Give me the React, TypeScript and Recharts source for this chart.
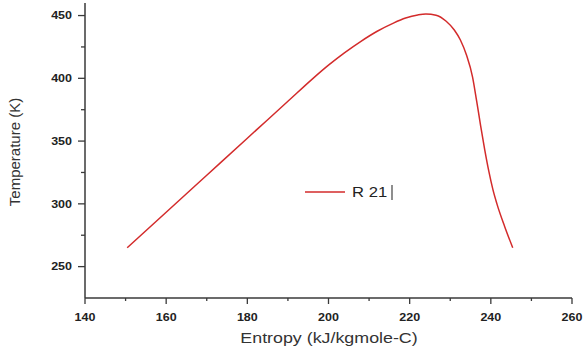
import React from 'react';
import { LineChart, Line, XAxis, YAxis, Customized } from 'recharts';

const entropy = [150.4, 160, 170, 180, 190, 196.2, 200, 204, 208, 212, 216, 219, 222, 224, 226.5, 229, 231, 232.5, 234, 235.5, 236.5, 237.5, 238.5, 239.5, 240.5, 241.5, 243.4, 245.4];
const temperature = [265, 293.3, 322.8, 352.3, 381.7, 400, 410.5, 420.5, 429.5, 437.5, 444, 448, 450.5, 451.3, 450.3, 445.5, 438.5, 430.5, 418.5, 401, 382, 362, 343, 326, 311.5, 300, 282, 265];

const xTicks = [140, 150, 160, 170, 180, 190, 200, 210, 220, 230, 240, 250, 260];
const xMajor = [140, 160, 180, 200, 220, 240, 260];
const yTicks = [250, 275, 300, 325, 350, 375, 400, 425, 450];
const yMajor = [250, 300, 350, 400, 450];
const seriesName = 'R 21';
const xTitle = 'Entropy (kJ/kgmole-C)';
const yTitle = 'Temperature (K)';

const data = entropy.map((e, i) => ({ s: e, t: temperature[i] }));

const FONT = '"Liberation Sans", Arial, sans-serif';
const SX = 1.19;
const AXIS = '#3a3a3a';
const RED = '#d32b2b';

const XTick = (props: any) => {
  const { x, y, payload } = props;
  const v = payload.value;
  const major = xMajor.includes(v);
  return (
    <g>
      <line x1={x} x2={x} y1={y} y2={y + (major ? 6 : 3)} stroke={AXIS} strokeWidth={1.3} />
      {major && (
        <text
          transform={`translate(${x},${y + 23}) scale(${SX},1)`}
          textAnchor="middle"
          fontFamily={FONT}
          fontWeight="bold"
          fontSize={10.5}
          fill="#222"
        >
          {v}
        </text>
      )}
    </g>
  );
};

const YTick = (props: any) => {
  const { x, y, payload } = props;
  const v = payload.value;
  const major = yMajor.includes(v);
  return (
    <g>
      <line x1={x - (major ? 7 : 4)} x2={x} y1={y} y2={y} stroke={AXIS} strokeWidth={1.3} />
      {major && (
        <text
          transform={`translate(${x - 13},${y + 3.8}) scale(${SX},1)`}
          textAnchor="end"
          fontFamily={FONT}
          fontWeight="bold"
          fontSize={10.5}
          fill="#222"
        >
          {v}
        </text>
      )}
    </g>
  );
};

const Titles = () => (
  <g>
    <text
      transform={`translate(329,343) scale(${SX},1)`}
      textAnchor="middle"
      fontFamily={FONT}
      fontSize={15}
      fill="#333"
    >
      {xTitle}
    </text>
    <text
      transform="translate(20,152) rotate(-90)"
      textAnchor="middle"
      fontFamily={FONT}
      fontSize={15}
      fill="#333"
    >
      {yTitle}
    </text>
    <line x1={305} x2={345} y1={192} y2={192} stroke={RED} strokeWidth={1.6} />
    <text
      transform={`translate(352,197) scale(${SX},1)`}
      fontFamily={FONT}
      fontSize={14}
      fill="#222"
    >
      {seriesName}
    </text>
    <line x1={392} x2={392} y1={185} y2={200} stroke="#444" strokeWidth={1.2} />
  </g>
);

export default function App() {
  return (
    <div style={{ position: 'absolute', left: 0, top: 0, width: 584, height: 354, background: '#fff' }}>
      <LineChart width={584} height={354} data={data} margin={{ top: 3, right: 12, left: 0, bottom: 0 }}>
        <XAxis
          dataKey="s"
          type="number"
          domain={[140, 260]}
          ticks={xTicks}
          interval={0}
          height={56}
          tickSize={0}
          tickMargin={0}
          tickLine={false}
          tick={<XTick />}
          axisLine={{ stroke: AXIS, strokeWidth: 1.5 }}
        />
        <YAxis
          dataKey="t"
          type="number"
          domain={[225, 460]}
          ticks={yTicks}
          interval={0}
          width={85}
          tickSize={0}
          tickMargin={0}
          tickLine={false}
          tick={<YTick />}
          axisLine={{ stroke: AXIS, strokeWidth: 1.5 }}
        />
        <Line
          dataKey="t"
          type="monotone"
          stroke={RED}
          strokeWidth={1.5}
          dot={false}
          isAnimationActive={false}
        />
        <Customized component={Titles} />
      </LineChart>
    </div>
  );
}
